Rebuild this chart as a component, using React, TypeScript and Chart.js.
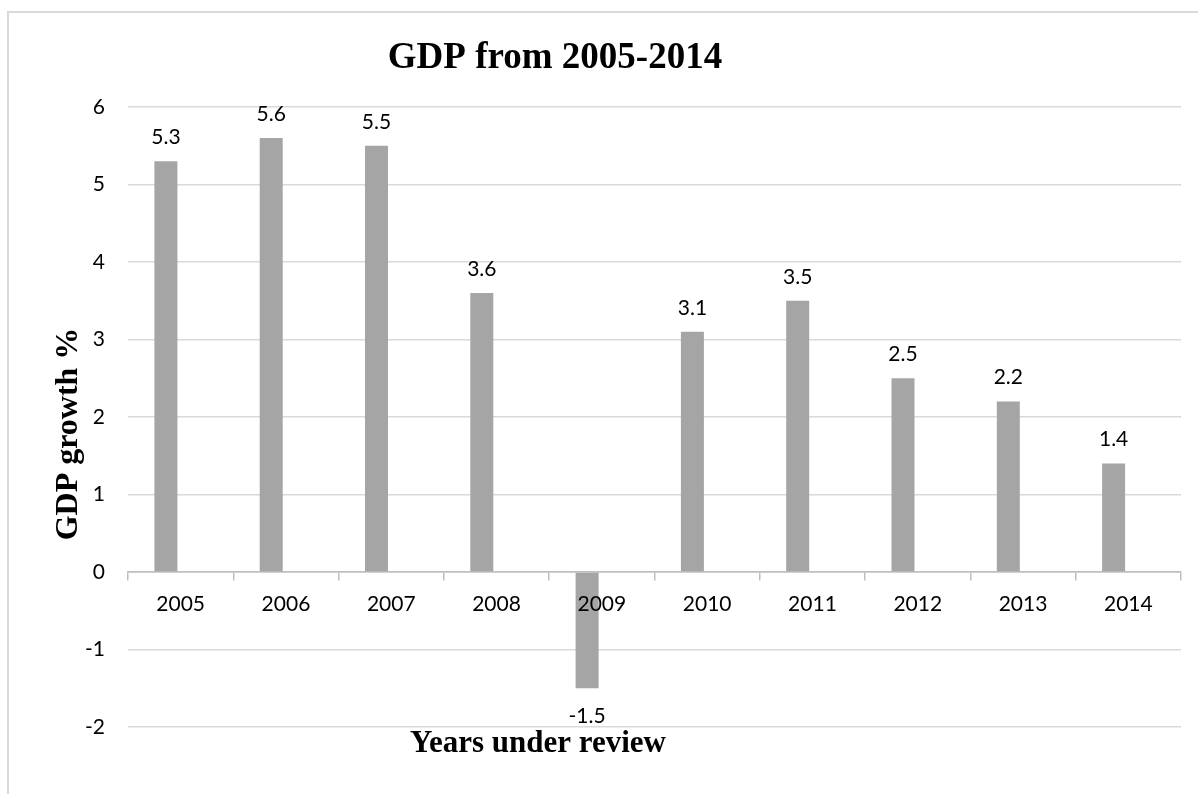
import React, { useEffect, useRef } from "react";
import { Chart, registerables } from "chart.js";

Chart.register(...registerables);

const categories = ["2005", "2006", "2007", "2008", "2009", "2010", "2011", "2012", "2013", "2014"];
const gdpGrowth = [5.3, 5.6, 5.5, 3.6, -1.5, 3.1, 3.5, 2.5, 2.2, 1.4];
const emptySeries = [null, null, null, null, null, null, null, null, null, null];
const yMin = -2;
const yMax = 6;
const yStep = 1;
const chartTitle = "GDP from 2005-2014";
const xAxisTitle = "Years under review";
const yAxisTitle = "GDP growth %";

const labelFont = "Lato, 'Noto Sans', sans-serif";
const titleFont = "'Liberation Serif', 'DejaVu Serif', serif";

const overlayPlugin = {
  id: "overlay",
  afterDatasetsDraw(chart: any) {
    const ctx = chart.ctx;
    const meta = chart.getDatasetMeta(0);
    ctx.save();
    ctx.font = `21px ${labelFont}`;
    ctx.fillStyle = "#000";
    ctx.textAlign = "center";
    ctx.textBaseline = "middle";
    meta.data.forEach((bar: any, i: number) => {
      const v = gdpGrowth[i];
      const y = v >= 0 ? bar.y - 24 : bar.y + 28;
      ctx.fillText(String(v), bar.x, y);
    });
    ctx.restore();
  },
  afterDraw(chart: any) {
    const ctx = chart.ctx;
    const area = chart.chartArea;
    ctx.save();
    ctx.fillStyle = "#000";
    ctx.textAlign = "center";
    ctx.textBaseline = "alphabetic";
    // chart title
    ctx.font = `bold 37px ${titleFont}`;
    ctx.fillText(chartTitle, area.left + 427, 68);
    // x axis title
    ctx.font = `bold 31px ${titleFont}`;
    ctx.fillText(xAxisTitle, area.left + 410, 752);
    // y axis title
    ctx.font = `bold 32px ${titleFont}`;
    ctx.translate(77, 434);
    ctx.rotate(-Math.PI / 2);
    ctx.fillText(yAxisTitle, 0, 0);
    ctx.restore();
  },
};

export default function App() {
  const canvasRef = useRef<HTMLCanvasElement | null>(null);

  useEffect(() => {
    if (!canvasRef.current) return;
    const chart = new Chart(canvasRef.current, {
      type: "bar",
      data: {
        labels: categories,
        datasets: [
          {
            label: "GDP growth",
            data: gdpGrowth,
            backgroundColor: "#a5a5a5",
            borderWidth: 0,
            categoryPercentage: 0.56,
            barPercentage: 0.78,
          },
          {
            label: "",
            data: emptySeries as any,
            backgroundColor: "#a5a5a5",
            borderWidth: 0,
            categoryPercentage: 0.56,
            barPercentage: 0.78,
          },
        ],
      },
      options: {
        responsive: false,
        animation: false,
        layout: { padding: { left: 0, right: 17, top: 107, bottom: 67 } },
        plugins: {
          legend: { display: false },
          title: { display: false },
          tooltip: { enabled: false },
        },
        scales: {
          x: {
            position: { y: 0 } as any,
            offset: true,
            grid: {
              display: true,
              drawOnChartArea: false,
              drawTicks: true,
              tickLength: 8,
              color: "#bfbfbf",
              lineWidth: 1.5,
              offset: true,
            },
            border: { display: true, color: "#bfbfbf", width: 1.5 },
            ticks: {
              z: 1,
              color: "#000",
              font: { family: labelFont, size: 21 },
              padding: 12,
              maxRotation: 0,
              autoSkip: false,
            },
          },
          y: {
            min: yMin,
            max: yMax,
            afterFit(scale: any) {
              scale.width = 128;
            },
            grid: {
              color: (c: any) => (c.tick && c.tick.value === 0 ? "#bfbfbf" : "#d9d9d9"),
              lineWidth: 1.5,
              drawTicks: false,
            },
            border: { display: false },
            ticks: {
              stepSize: yStep,
              color: "#000",
              font: { family: labelFont, size: 21 },
              padding: 23,
            },
          },
        },
      },
      plugins: [overlayPlugin],
    });
    return () => chart.destroy();
  }, []);

  return (
    <div
      style={{
        position: "fixed",
        left: 0,
        top: 0,
        width: 1198,
        height: 794,
        overflow: "hidden",
        background: "#fff",
      }}
    >
      <div
        style={{
          position: "absolute",
          left: 7,
          top: 11,
          width: 1400,
          height: 1000,
          border: "2px solid #d9d9d9",
        }}
      />
      <canvas
        ref={canvasRef}
        width={1198}
        height={794}
        style={{ position: "absolute", left: 0, top: 0, width: 1198, height: 794 }}
      />
    </div>
  );
}
